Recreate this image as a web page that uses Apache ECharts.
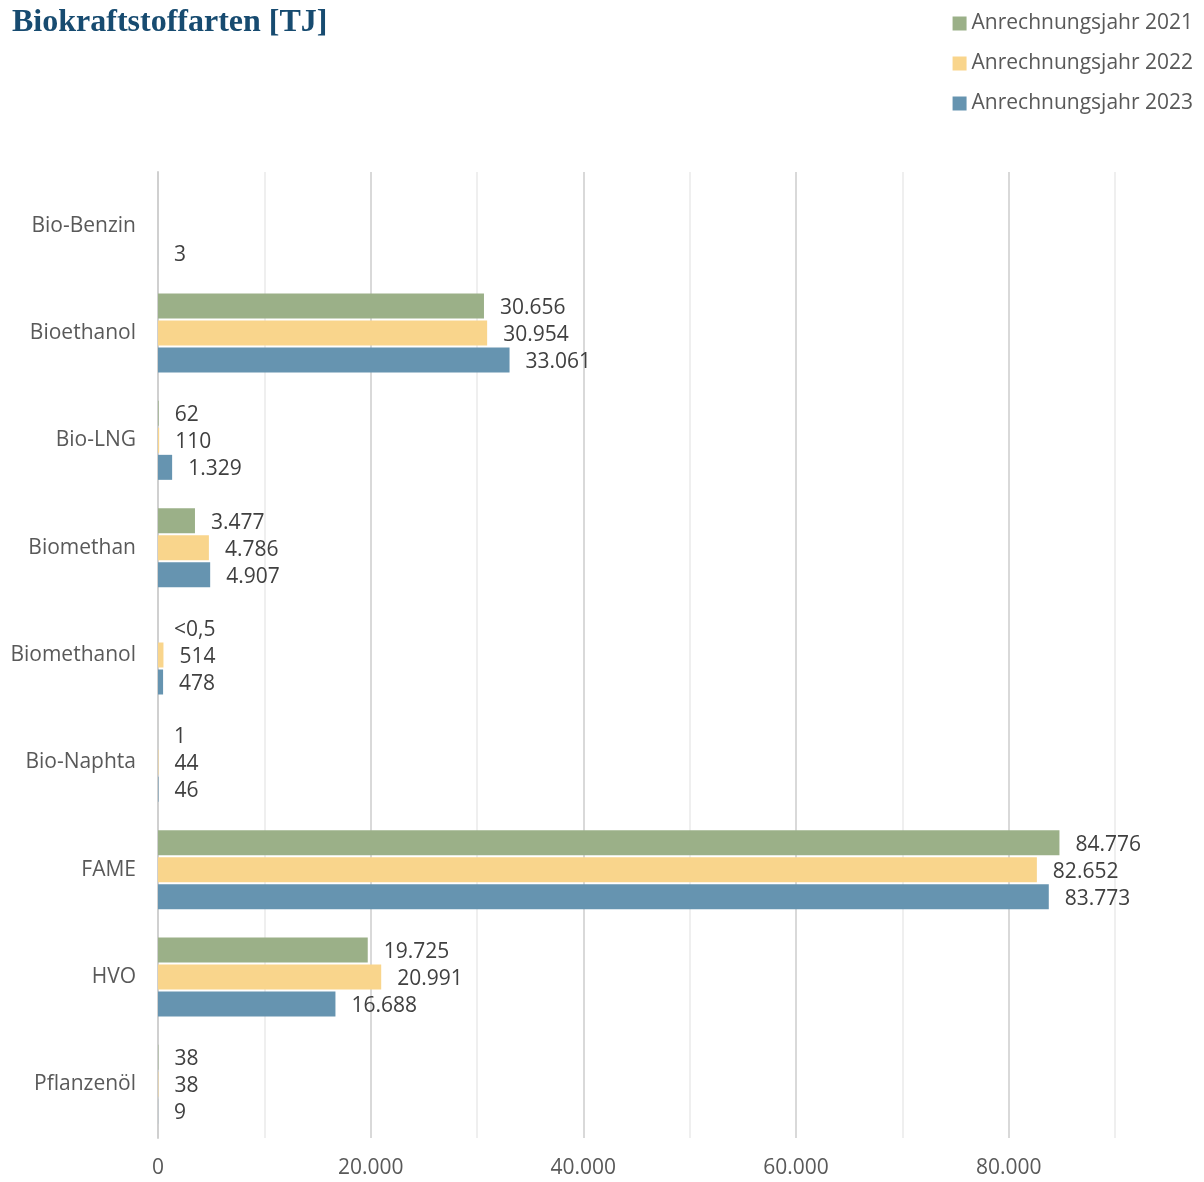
<!DOCTYPE html>
<html>
<head>
<meta charset="utf-8">
<script src="https://cdn.jsdelivr.net/npm/echarts@6/dist/echarts.min.js"></script>
<style>
  html, body { margin: 0; padding: 0; background: #fff; }
  #chart { width: 1204px; height: 1182px; }
</style>
</head>
<body>
<div id="chart"></div>
<script>
// Biofuel types by crediting year, in terajoules
const categories = ['Bio-Benzin', 'Bioethanol', 'Bio-LNG', 'Biomethan', 'Biomethanol', 'Bio-Naphta', 'FAME', 'HVO', 'Pflanzenöl'];
const seriesNames = ['Anrechnungsjahr 2021', 'Anrechnungsjahr 2022', 'Anrechnungsjahr 2023'];
const values2021 = [null, 30656, 62, 3477, 0.4, 1, 84776, 19725, 38];
const values2022 = [null, 30954, 110, 4786, 514, 44, 82652, 20991, 38];
const values2023 = [3, 33061, 1329, 4907, 478, 46, 83773, 16688, 9];
const xTicks = [0, 20000, 40000, 60000, 80000];
const colors = ['#9BB088', '#F9D58C', '#6694B0'];

const fontFamily = '"Open Sans", "Noto Sans", sans-serif';
const fontSize = 21;

// German thousands separator
function fmtThousands(v) {
  return Math.round(v).toString().replace(/\B(?=(\d{3})+(?!\d))/g, '.');
}

// Bar labels: values below 0.5 TJ are shown as "<0,5"
function fmtValue(v) {
  if (v == null) return '';
  if (v > 0 && v < 0.5) return '<0,5';
  return fmtThousands(v);
}

function makeSeries(name, data, color) {
  return {
    name: name,
    type: 'bar',
    data: data,
    barWidth: 25,
    barGap: '8%',
    itemStyle: { color: color },
    label: {
      show: true,
      position: 'right',
      distance: 16,
      offset: [0, 2],
      fontFamily: fontFamily,
      fontSize: fontSize,
      color: '#404040',
      formatter: p => fmtValue(p.value)
    }
  };
}

const chart = echarts.init(document.getElementById('chart'), null, { renderer: 'canvas' });
chart.setOption({
  animation: false,
  color: colors,
  title: {
    text: 'Biokraftstoffarten [TJ]',
    left: 7,
    top: 2,
    textStyle: {
      fontFamily: '"Liberation Serif", "DejaVu Serif", serif',
      fontWeight: 'bold',
      fontSize: 32,
      color: '#174B70'
    }
  },
  legend: {
    orient: 'vertical',
    right: 6,
    top: 8,
    itemWidth: 14,
    itemHeight: 14,
    itemGap: 19,
    icon: 'rect',
    textStyle: { fontFamily: fontFamily, fontSize: fontSize, color: '#595959' },
    data: seriesNames
  },
  grid: { left: 158, right: 89, top: 172, bottom: 44, containLabel: false },
  xAxis: {
    type: 'value',
    min: 0,
    max: 90000,
    interval: 10000,
    axisLine: { show: false },
    axisTick: { show: false },
    axisLabel: {
      margin: 20,
      fontFamily: fontFamily,
      fontSize: fontSize,
      color: '#595959',
      formatter: v => (xTicks.indexOf(v) >= 0 ? fmtThousands(v) : '')
    },
    splitLine: { show: true, lineStyle: { color: ['#D9D9D9', '#EFEFEF'], width: 2 } }
  },
  yAxis: {
    type: 'category',
    data: categories,
    inverse: true,
    axisLine: { show: true, lineStyle: { color: '#D0D0D0', width: 2 } },
    axisTick: { show: false },
    axisLabel: {
      margin: 22,
      fontFamily: fontFamily,
      fontSize: fontSize,
      color: '#595959',
      padding: [4, 0, 0, 0]
    },
    splitLine: { show: false }
  },
  series: [
    makeSeries(seriesNames[0], values2021, colors[0]),
    makeSeries(seriesNames[1], values2022, colors[1]),
    makeSeries(seriesNames[2], values2023, colors[2])
  ]
});
</script>
</body>
</html>
